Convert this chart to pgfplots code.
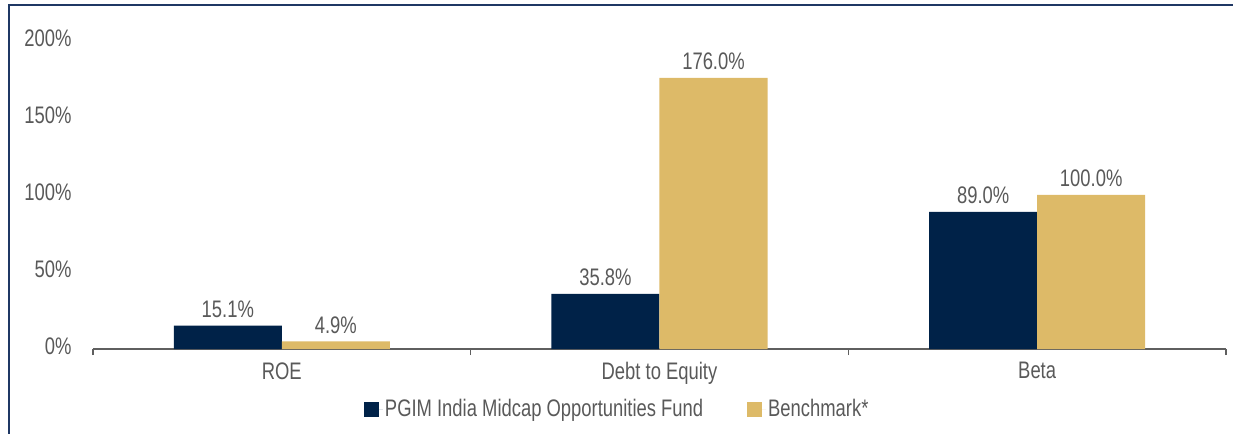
\documentclass[border=0pt]{standalone}
\usepackage{fontspec}
\setmainfont{Liberation Sans}[FakeStretch=0.77]
\usepackage{pgfplots}
\pgfplotsset{compat=1.18}
\definecolor{navy}{RGB}{0,34,72}
\definecolor{gold}{RGB}{221,186,104}
\definecolor{txt}{RGB}{89,89,89}
\definecolor{axgray}{RGB}{95,95,95}
\definecolor{frame}{RGB}{31,56,100}
\begin{document}
\begin{tikzpicture}
\fontsize{24}{28}\selectfont
\useasboundingbox (0,0) rectangle (1234bp,434bp);
\draw[frame, line width=2bp] (9bp,0bp) -- (9bp,429bp) -- (1233bp,429bp);
\begin{axis}[
  at={(93bp,85bp)}, anchor=south west,
  scale only axis, width=1133bp, height=308bp,
  xmin=0, xmax=3, ymin=0, ymax=200,
  ybar=0pt, bar width=0.286,
  axis x line*=bottom, axis y line*=left,
  y axis line style={draw=none},
  x axis line style={axgray, line width=1.5bp},
  xtick={0.5,1.5,2.5},
  xticklabels={ROE,Debt to Equity,Beta},
  major x tick style={draw=none},
  minor xtick={0,1,2,3},
  minor x tick style={axgray, line width=1.5bp},
  minor tick length=6bp,
  tick align=outside,
  ytick={0,50,100,150,200},
  yticklabels={0\%,50\%,100\%,150\%,200\%},
  major y tick style={draw=none},
  yticklabel style={anchor=east, xshift=-9bp, yshift=3bp},
  xticklabel style={yshift=-1bp},
  ticklabel style={font=\fontsize{24}{28}\selectfont, text=txt},
  /pgf/number format/assume math mode=true,
  nodes near coords={\pgfmathprintnumber[fixed,fixed zerofill,precision=1]{\pgfplotspointmeta}\%},
  every node near coord/.append style={font=\fontsize{24}{28}\selectfont, text=txt, yshift=0bp},
  legend style={at={(axis description cs:0.239,-0.198)}, anchor=west, draw=none, fill=none,
    legend columns=-1, font=\fontsize{24}{28}\selectfont, text=txt, inner sep=0pt,
    /tikz/every even column/.append style={column sep=42bp}},
  legend image code/.code={\path[#1, draw=none] (0bp,-7.5bp) rectangle (15bp,7.5bp); \path (0bp,0bp) -- (19bp,0bp);},
  clip=false,
]
\addplot[fill=navy, draw=none] coordinates {(0.5,15.1) (1.5,35.8) (2.5,89.0)};
\addplot[fill=gold, draw=none] coordinates {(0.5,4.9) (1.5,176.0) (2.5,100.0)};
\legend{PGIM India Midcap Opportunities Fund, Benchmark*}
\end{axis}
\end{tikzpicture}
\end{document}
